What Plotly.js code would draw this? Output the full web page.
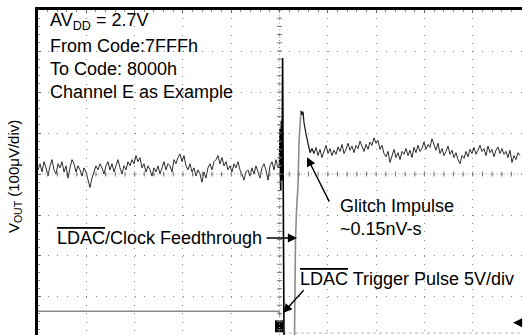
<!DOCTYPE html>
<html>
<head>
<meta charset="utf-8">
<script src="https://cdn.plot.ly/plotly-3.0.1.min.js"></script>
<style>html,body{margin:0;padding:0;background:#fff;}#chart{width:523px;height:335px;}</style>
</head>
<body>
<div id="chart"></div>
<script>
// ---- data (x in scope divisions, y in microvolts; 100 uV/div) ----
var sampleStep = 0.0414;          // scope sample spacing in divisions
var preStart = 0.0;
var preNoiseUV = [
  10, 25, 5, 30, 15, -5, 20, 35, 10, 0, 25, 15,
  30, 5, 20, -10, 15, 35, 25, 5, 20, 10, -5, 15,
  5, -15, -33, -10, 5, 20, 10, 25, 15, 0, 20, 30,
  10, 25, 5, 20, 35, 15, 0, 20, 10, 30, 20, 35,
  25, 45, 30, 40, 15, 25, 5, 20, 10, -5, 15, 5,
  20, 0, 15, 30, 10, 25, 20, 5, 35, 25, 40, 49,
  30, 45, 20, 10, 25, 5, 15, -5, 10, 0, -20, 5,
  -10, 15, 25, 10, 30, 35, 45, 25, 40, 20, 30, 10,
  20, 5, 25, 15, 30, 10, 0, -15, 5, 10, -5, 15,
  0, 20, 5, -10, 15, 25, 10, -15, 20, 30, 10, 35, 15
];
var feedT  = [4.99, 5.00, 5.01, 5.025, 5.037, 5.05, 5.064, 5.077, 5.093, 5.31];
var feedUV = [15, 20, 110, -40, 130, -16, 283, -361, -405, -405];
var riseT  = [5.31, 5.33, 5.352, 5.383, 5.404, 5.424, 5.445];
var riseUV = [-405, -162, -89, -28, 81, 135, 154];
var decayT  = [5.445, 5.466, 5.486, 5.507, 5.548, 5.590, 5.631, 5.673, 5.714];
var decayUV = [154, 144, 152, 125, 98, 74, 52, 62, 50];
var postStart = 5.714;
var postNoiseUV = [
  50, 65, 45, 60, 40, 55, 70, 50, 62, 45, 58, 48,
  66, 55, 72, 50, 60, 75, 58, 68, 52, 70, 62, 80,
  65, 55, 72, 60, 78, 70, 88, 75, 82, 60, 70, 50,
  42, 55, 28, 45, 60, 40, 52, 35, 55, 48, 62, 45,
  58, 40, 65, 52, 70, 55, 62, 78, 60, 72, 65, 86,
  70, 58, 75, 50, 62, 45, 55, 68, 48, 58, 40, 52,
  35, 25, 45, 38, 55, 42, 60, 50, 65, 48, 58, 70,
  55, 62, 45, 68, 52, 60, 42, 58, 66, 50, 62, 48,
  55, 40, 58, 28, 45, 35, 52, 45
];
// LDAC trigger pulse (5 V/div, drawn on the same screen)
var trigHighT  = [0, 4.99, 5.01];
var trigHighUV = [-335, -335, -347];
var trigEdgeT  = [4.99, 4.99];
var trigEdgeUV = [-357, -386];
var trigLowT   = [5.07, 10.02];
var trigLowUV  = [-388, -388];

// ---- build ----
function times(start, n){ var a=[]; for(var i=0;i<n;i++){ a.push(+(start+i*sampleStep).toFixed(4)); } return a; }
var preT = times(preStart, preNoiseUV.length);
var postT = times(postStart, postNoiseUV.length);

var dark = '#2b2b2b';
var traces = [
  {x: trigHighT, y: trigHighUV, mode:'lines', line:{color:'#8a8a8a', width:1.5}},
  {x: trigLowT, y: trigLowUV, mode:'lines', line:{color:'#b5b5b5', width:1, dash:'3px,3px'}},
  {x: preT, y: preNoiseUV, mode:'lines', line:{color:dark, width:1}},
  {x: feedT, y: feedUV, mode:'lines', line:{color:'#000', width:1.6}},
  {x: riseT, y: riseUV, mode:'lines', line:{color:'#8c8c8c', width:1.6}},
  {x: decayT, y: decayUV, mode:'lines', line:{color:'#111', width:1.2}},
  {x: postT, y: postNoiseUV, mode:'lines', line:{color:dark, width:1}},
  {x: trigEdgeT, y: trigEdgeUV, mode:'lines', line:{color:'#000', width:8}}
];

var shapes = [];
// center cross with fine dots and small ticks (scope graticule)
shapes.push({type:'line', xref:'x', yref:'paper', x0:5, x1:5, y0:0, y1:1, line:{color:'#9a9a9a', width:1, dash:'1px,2.5px'}});
shapes.push({type:'line', xref:'paper', yref:'y', x0:0, x1:1, y0:0, y1:0, line:{color:'#9a9a9a', width:1, dash:'1px,2.5px'}});
for (var k=-19;k<=20;k++){
  var v = k*20;
  shapes.push({type:'line', xref:'x', yref:'y', xsizemode:'pixel', xanchor:5, x0:-2.5, x1:2.5, y0:v, y1:v, line:{color:'#777', width:1}});
}
for (var j=1;j<50;j++){
  var t = j*0.2;
  shapes.push({type:'line', xref:'x', yref:'y', ysizemode:'pixel', yanchor:0, y0:-2.5, y1:2.5, x0:t, x1:t, line:{color:'#777', width:1}});
}

var F = 'Liberation Sans, Arial, Helvetica, sans-serif';
function txt(x, y, s){ return {x:x, y:y, xref:'x', yref:'y', text:s, showarrow:false, xanchor:'left', yanchor:'middle', font:{family:F, size:18, color:'#000'}}; }
function arr(tx, ty, hx, hy){ return {x:hx, y:hy, ax:tx, ay:ty, xref:'x', yref:'y', axref:'x', ayref:'y', text:'', showarrow:true, arrowhead:2, arrowsize:1.3, arrowwidth:1.4, arrowcolor:'#000', standoff:0, startstandoff:0}; }

var annotations = [
  txt(0.207, 373, 'AV<sub>DD</sub> = 2.7V'),
  txt(0.207, 312, 'From Code:7FFFh'),
  txt(0.207, 256, 'To Code: 8000h'),
  txt(0.207, 200, 'Channel E as Example'),
  txt(0.352, -156, '<span style="text-decoration:overline">LDAC</span>/Clock Feedthrough'),
  txt(6.21, -78, 'Glitch Impulse'),
  txt(6.21, -134, '~0.15nV-s'),
  txt(5.383, -256, '<span style="text-decoration:overline">LDAC</span> Trigger Pulse 5V/div'),
  arr(4.70, -156, 5.362, -156),
  arr(6.046, -71, 5.569, 41),
  arr(5.528, -280, 5.072, -339),
  arr(10.02, -363, 9.834, -363),
  {xref:'paper', yref:'paper', x:-0.0496, y:0.489, text:'V<sub>OUT</sub> (100\u03bcV/div)', textangle:-90, showarrow:false, xanchor:'center', yanchor:'middle', font:{family:F, size:15, color:'#000'}}
];

var layout = {
  width:523, height:335,
  margin:{l:38, r:1, t:10, b:0},
  paper_bgcolor:'#fff', plot_bgcolor:'#fff',
  showlegend:false,
  xaxis:{range:[0,10.02], side:'top', showline:true, linewidth:3, linecolor:'#000',
         showgrid:true, tick0:0, dtick:1, gridcolor:'#8a8a8a', gridwidth:1, griddash:'1px,7.2px',
         ticks:'inside', ticklen:3, tickcolor:'#666', showticklabels:false, zeroline:false,
         minor:{ticks:'inside', dtick:0.2, ticklen:2, tickcolor:'#888', showgrid:false}},
  yaxis:{range:[-392.7,400], showline:true, linewidth:3, linecolor:'#000',
         showgrid:true, tick0:0, dtick:100, gridcolor:'#8a8a8a', gridwidth:1, griddash:'1px,8.66px',
         ticks:'inside', ticklen:3, tickcolor:'#666', showticklabels:false, zeroline:false,
         minor:{ticks:'inside', dtick:20, ticklen:2, tickcolor:'#888', showgrid:false}},
  shapes:shapes,
  annotations:annotations
};
Plotly.newPlot('chart', traces, layout, {staticPlot:true, displayModeBar:false});
</script>
</body>
</html>
